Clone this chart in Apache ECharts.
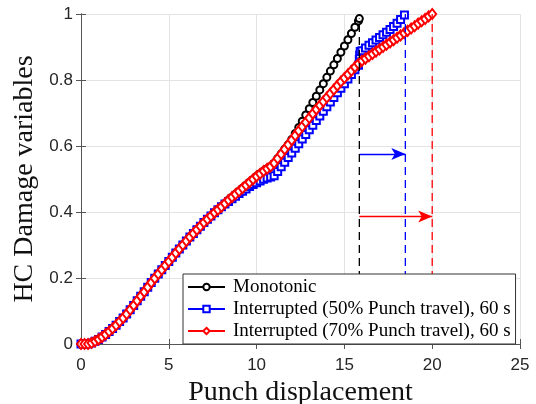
<!DOCTYPE html>
<html>
<head>
<meta charset="utf-8">
<script src="https://cdn.jsdelivr.net/npm/echarts/dist/echarts.min.js"></script>
<style>html,body{margin:0;padding:0;background:#fff;}#c{width:536px;height:404px;}</style>
</head>
<body>
<div id="c"></div>
<script>
// ---- data ----
const seriesNames = ['Monotonic', 'Interrupted (50% Punch travel), 60 s', 'Interrupted (70% Punch travel), 60 s'];
const xTicks = [0, 5, 10, 15, 20, 25];
const yTicks = [0, 0.2, 0.4, 0.6, 0.8, 1];

const monoX = [0,0.2,0.4,0.6,0.8,1,1.2,1.4,1.6,1.8,2,2.2,2.4,2.6,2.8,3,3.2,3.4,3.6,3.8,4,4.2,4.4,4.6,4.8,5,5.2,5.4,5.6,5.8,6,6.2,6.4,6.6,6.8,7,7.2,7.4,7.6,7.8,8,8.2,8.4,8.6,8.8,9,9.2,9.4,9.6,9.8,10,10.2,10.4,10.6,10.8,11,11.2,11.4,11.6,11.8,12,12.2,12.4,12.6,12.8,13,13.2,13.4,13.6,13.8,14,14.2,14.4,14.6,14.8,15,15.2,15.4,15.6,15.8,15.85];
const monoY = [0,0,0,0.003,0.008,0.014,0.021,0.029,0.038,0.047,0.057,0.068,0.079,0.091,0.104,0.117,0.131,0.145,0.158,0.172,0.186,0.199,0.212,0.225,0.238,0.25,0.263,0.276,0.288,0.3,0.312,0.324,0.335,0.346,0.357,0.368,0.378,0.388,0.398,0.407,0.416,
  0.426,0.436,0.445,0.454,0.463,0.472,0.481,0.49,0.499,0.508,0.516,0.524,0.531,0.538,
  0.548,0.562,0.576,0.59,0.604,0.62,0.638,0.656,0.675,0.694,0.713,0.732,0.751,0.77,0.789,0.808,0.827,0.846,0.865,0.884,0.903,0.922,0.941,0.96,0.979,0.986];

const int50X = [0,0.2,0.4,0.6,0.8,1,1.2,1.4,1.6,1.8,2,2.2,2.4,2.6,2.8,3,3.2,3.4,3.6,3.8,4,4.2,4.4,4.6,4.8,5,5.2,5.4,5.6,5.8,6,6.2,6.4,6.6,6.8,7,7.2,7.4,7.6,7.8,8,8.2,8.4,8.6,8.8,9,9.2,9.4,9.6,9.8,10,10.2,10.4,10.6,10.8,11,11.2,11.4,11.6,11.8,12,12.2,12.4,12.6,12.8,13,13.2,13.4,13.6,13.8,14,14.2,14.4,14.6,14.8,15,15.2,15.4,15.6,15.8,15.85,15.87,15.9,16,16.2,16.4,16.6,16.8,17,17.2,17.4,17.6,17.8,18,18.2,18.42];
const int50Y = [0,0,0,0.003,0.008,0.014,0.021,0.029,0.038,0.047,0.057,0.068,0.079,0.091,0.104,0.117,0.131,0.145,0.158,0.172,0.186,0.199,0.212,0.225,0.238,0.25,0.263,0.276,0.288,0.3,0.312,0.324,0.335,0.346,0.357,0.368,0.378,0.388,0.398,0.407,0.416,
  0.424,0.432,0.44,0.448,0.456,0.463,0.47,0.477,0.483,0.489,0.494,0.499,0.503,0.506,
  0.51,0.523,0.537,0.551,0.565,0.579,0.593,0.607,0.621,0.635,0.649,0.663,0.677,0.691,0.705,0.719,0.733,0.747,0.761,0.775,0.789,0.803,0.817,0.831,0.845,
  0.862,0.876,0.886,0.889,0.897,0.905,0.913,0.921,0.929,0.937,0.945,0.953,0.962,0.972,0.983,0.997];

const int70X = [0,0.2,0.4,0.6,0.8,1,1.2,1.4,1.6,1.8,2,2.2,2.4,2.6,2.8,3,3.2,3.4,3.6,3.8,4,4.2,4.4,4.6,4.8,5,5.2,5.4,5.6,5.8,6,6.2,6.4,6.6,6.8,7,7.2,7.4,7.6,7.8,8,8.2,8.4,8.6,8.8,9,9.2,9.4,9.6,9.8,10,10.2,10.4,10.6,10.8,11,11.2,11.4,11.6,11.8,12,12.2,12.4,12.6,12.8,13,13.2,13.4,13.6,13.8,14,14.2,14.4,14.6,14.8,15,15.2,15.4,15.6,15.8,16,16.2,16.4,16.6,16.8,17,17.2,17.4,17.6,17.8,18,18.2,18.4,18.6,18.8,19,19.2,19.4,19.6,19.8,20];
const int70Y = [0,0,0,0.003,0.008,0.014,0.021,0.029,0.038,0.047,0.057,0.068,0.079,0.091,0.104,0.117,0.131,0.145,0.158,0.172,0.186,0.199,0.212,0.225,0.238,0.25,0.263,0.276,0.288,0.3,0.312,0.324,0.335,0.346,0.357,0.368,0.378,0.388,0.398,0.407,0.416,
  0.426,0.436,0.445,0.454,0.463,0.472,0.481,0.49,0.499,0.508,0.516,0.524,0.531,0.538,
  0.548,0.562,0.576,0.59,0.604,0.618,0.632,0.646,0.659,0.672,0.685,0.698,0.711,0.723,0.735,0.747,0.759,0.771,0.783,0.795,0.806,0.817,0.828,0.839,0.849,
  0.858,0.865,0.872,0.879,0.886,0.893,0.9,0.907,0.914,0.921,0.928,0.935,0.942,0.949,0.956,0.963,0.971,0.978,0.985,0.993,1.0];

// failure (end) positions marked by dashed verticals
const endX = [15.85, 18.47, 20.0];
const endTopY = [0.986, 1.0, 1.0];
// delay arrows: start x, end x, height
const arrowStartX = [15.85, 15.85];
const arrowEndX = [18.47, 20.0];
const arrowY = [0.576, 0.386];

// ---- chart ----
const colors = ['#000000', '#0000ff', '#ff0000'];
const zip = (xs, ys) => xs.map((x, i) => [x, ys[i]]);
const chart = echarts.init(document.getElementById('c'), null, {renderer: 'canvas'});

const axisCol = '#555555';
const labelFont = 'Liberation Sans';
const serif = 'Liberation Serif';

const mainSeries = [
  {name: seriesNames[0], data: zip(monoX, monoY), symbol: 'emptyCircle', symbolSize: 7},
  {name: seriesNames[1], data: zip(int50X, int50Y), symbol: 'emptyRect', symbolSize: 7},
  {name: seriesNames[2], data: zip(int70X, int70Y), symbol: 'emptyDiamond', symbolSize: [8, 10]}
].map((s, i) => Object.assign({
  type: 'line', showAllSymbol: true, z: 2 + i,
  lineStyle: {color: colors[i], width: 1},
  itemStyle: {color: colors[i], borderWidth: 1.2},
  emphasis: {disabled: true}, animation: false
}, s));

const dashSeries = endX.map((x, i) => ({
  type: 'line', data: [[x, 0], [x, endTopY[i]]], symbol: 'none', z: 6,
  lineStyle: {color: colors[i], width: 1.3, type: [8, 5]},
  emphasis: {disabled: true}, animation: false, silent: true
}));

const arrowSeries = arrowY.map((y, i) => ({
  type: 'line', data: [], symbol: 'none', z: 7, animation: false, silent: true,
  markLine: {
    silent: true, animation: false, symbol: ['none', 'arrow'], symbolSize: [9, 14],
    label: {show: false},
    lineStyle: {color: colors[i + 1], width: 1.3, type: 'solid'},
    data: [[{coord: [arrowStartX[i], y]}, {coord: [arrowEndX[i], y]}]]
  }
}));

const xBase = {type: 'value', min: xTicks[0], max: xTicks[xTicks.length - 1], interval: xTicks[1] - xTicks[0]};
const yBase = {type: 'value', min: yTicks[0], max: yTicks[yTicks.length - 1], interval: 0.2};

chart.setOption({
  backgroundColor: '#ffffff',
  animation: false,
  grid: {left: 81, right: 16, top: 14, bottom: 60, containLabel: false, outerBoundsMode: 'none'},
  xAxis: [
    Object.assign({}, xBase, {
      position: 'bottom',
      name: 'Punch displacement', nameLocation: 'middle', nameGap: 25,
      nameTextStyle: {fontFamily: serif, fontSize: 28, color: '#111'},
      axisLine: {show: true, lineStyle: {color: axisCol, width: 1}},
      axisTick: {show: true, inside: true, length: 5, lineStyle: {color: axisCol}},
      axisLabel: {fontFamily: labelFont, fontSize: 17, color: '#262626', margin: 13},
      splitLine: {show: true, lineStyle: {color: '#e3e3e3', width: 1}}
    }),
    Object.assign({}, xBase, {
      position: 'top',
      axisLine: {show: true, lineStyle: {color: axisCol, width: 1}},
      axisTick: {show: true, inside: true, length: 5, lineStyle: {color: axisCol}},
      axisLabel: {show: false}, splitLine: {show: false}
    })
  ],
  yAxis: [
    Object.assign({}, yBase, {
      position: 'left',
      name: 'HC Damage variables', nameLocation: 'middle', nameGap: 40,
      nameTextStyle: {fontFamily: serif, fontSize: 28, color: '#111'},
      axisLine: {show: true, lineStyle: {color: axisCol, width: 1}},
      axisTick: {show: true, inside: true, length: 5, lineStyle: {color: axisCol}},
      axisLabel: {fontFamily: labelFont, fontSize: 17, color: '#262626', margin: 8},
      splitLine: {show: true, lineStyle: {color: '#e3e3e3', width: 1}}
    }),
    Object.assign({}, yBase, {
      position: 'right',
      axisLine: {show: true, lineStyle: {color: axisCol, width: 1}},
      axisTick: {show: true, inside: true, length: 5, lineStyle: {color: axisCol}},
      axisLabel: {show: false}, splitLine: {show: false}
    })
  ],
  legend: {
    data: seriesNames, orient: 'vertical', left: 183, top: 274, z: 20,
    backgroundColor: '#ffffff', borderColor: '#333333', borderWidth: 1, borderRadius: 0,
    padding: [3, 5, 3, 4], itemGap: 2, itemWidth: 37, itemHeight: 8,
    textStyle: {fontFamily: serif, fontSize: 19, lineHeight: 20, color: '#000', padding: [0, 0, 0, 3]},
    selectedMode: false
  },
  series: mainSeries.concat(dashSeries, arrowSeries)
});
</script>
</body>
</html>
